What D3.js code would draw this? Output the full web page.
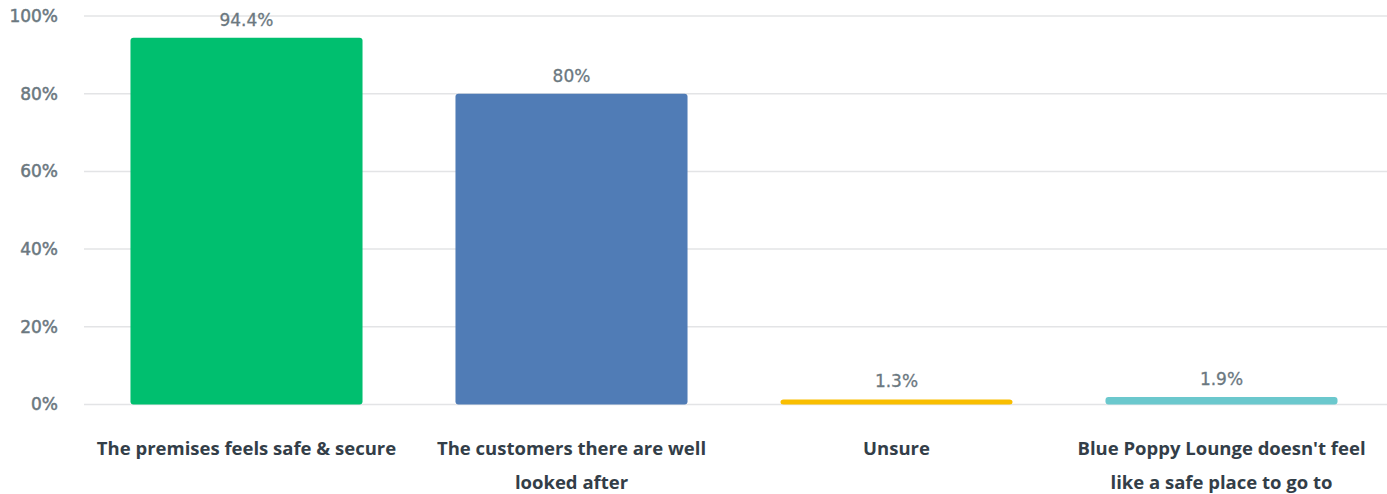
<!DOCTYPE html>
<html>
<head>
<meta charset="utf-8">
<script src="https://cdn.jsdelivr.net/npm/d3@7"></script>
<style>
  html, body { margin: 0; padding: 0; background: #fff; }
  svg { display: block; }
</style>
</head>
<body>
<svg id="chart" width="1387" height="494"></svg>
<script>
// Survey responses: share of respondents choosing each statement
const categories = [
  "The premises feels safe & secure",
  "The customers there are well looked after",
  "Unsure",
  "Blue Poppy Lounge doesn't feel like a safe place to go to"
];
const labelLines = [
  ["The premises feels safe & secure"],
  ["The customers there are well", "looked after"],
  ["Unsure"],
  ["Blue Poppy Lounge doesn't feel", "like a safe place to go to"]
];
const values = [94.4, 80, 1.3, 1.9];
const valueLabels = ["94.4%", "80%", "1.3%", "1.9%"];
const colors = ["#00bf6f", "#507cb6", "#f9be00", "#6bc8cd"];
const yTicks = [0, 20, 40, 60, 80, 100];

const width = 1387, height = 494;
const margin = { top: 16, right: 3, bottom: 90, left: 84 };

const svg = d3.select("#chart");

const x = d3.scaleBand()
  .domain(categories)
  .range([margin.left, width - margin.right])
  .paddingInner(0.286)
  .paddingOuter(0.143);

const y = d3.scaleLinear()
  .domain([0, 100])
  .range([height - margin.bottom + 0.5, margin.top]);

// Horizontal gridlines
svg.append("g")
  .selectAll("line")
  .data(yTicks)
  .join("line")
  .attr("x1", margin.left)
  .attr("x2", width)
  .attr("y1", d => y(d))
  .attr("y2", d => y(d))
  .attr("stroke", "#e3e4e6")
  .attr("stroke-width", 1.5);

// Y axis labels
const yAxis = d3.axisLeft(y)
  .tickValues(yTicks)
  .tickFormat(d => d + "%")
  .tickSize(0)
  .tickPadding(0);

svg.append("g")
  .attr("transform", `translate(${margin.left - 26},0)`)
  .call(yAxis)
  .call(g => g.select(".domain").remove())
  .call(g => g.selectAll("text")
    .attr("fill", "#6b787f")
    .attr("stroke", "#6b787f")
    .attr("stroke-width", 0.5)
    .attr("font-family", "'DejaVu Sans', sans-serif")
    .attr("font-size", 17));

// Bars
svg.append("g")
  .selectAll("rect")
  .data(values)
  .join("rect")
  .attr("x", (d, i) => x(categories[i]))
  .attr("width", x.bandwidth())
  .attr("y", d => y(d))
  .attr("height", d => y(0) - y(d))
  .attr("rx", 3)
  .attr("fill", (d, i) => colors[i]);

// Value labels above bars
svg.append("g")
  .selectAll("text")
  .data(values)
  .join("text")
  .attr("x", (d, i) => x(categories[i]) + x.bandwidth() / 2)
  .attr("y", d => y(d) - 12)
  .attr("text-anchor", "middle")
  .attr("fill", "#6b787f")
  .attr("stroke", "#6b787f")
  .attr("stroke-width", 0.3)
  .attr("font-family", "'DejaVu Sans', sans-serif")
  .attr("font-size", 17)
  .text((d, i) => valueLabels[i]);

// Category labels under the axis
const catG = svg.append("g")
  .selectAll("text")
  .data(categories)
  .join("text")
  .attr("x", d => x(d) + x.bandwidth() / 2)
  .attr("y", height - margin.bottom + 51)
  .attr("text-anchor", "middle")
  .attr("fill", "#333e48")
  .attr("font-family", "'Open Sans', sans-serif")
  .attr("font-weight", 700)
  .attr("font-size", 18.5);

catG.selectAll("tspan")
  .data((d, i) => labelLines[i])
  .join("tspan")
  .attr("x", function () { return d3.select(this.parentNode).attr("x"); })
  .attr("dy", (d, j) => j === 0 ? 0 : 34)
  .text(d => d);
</script>
</body>
</html>
